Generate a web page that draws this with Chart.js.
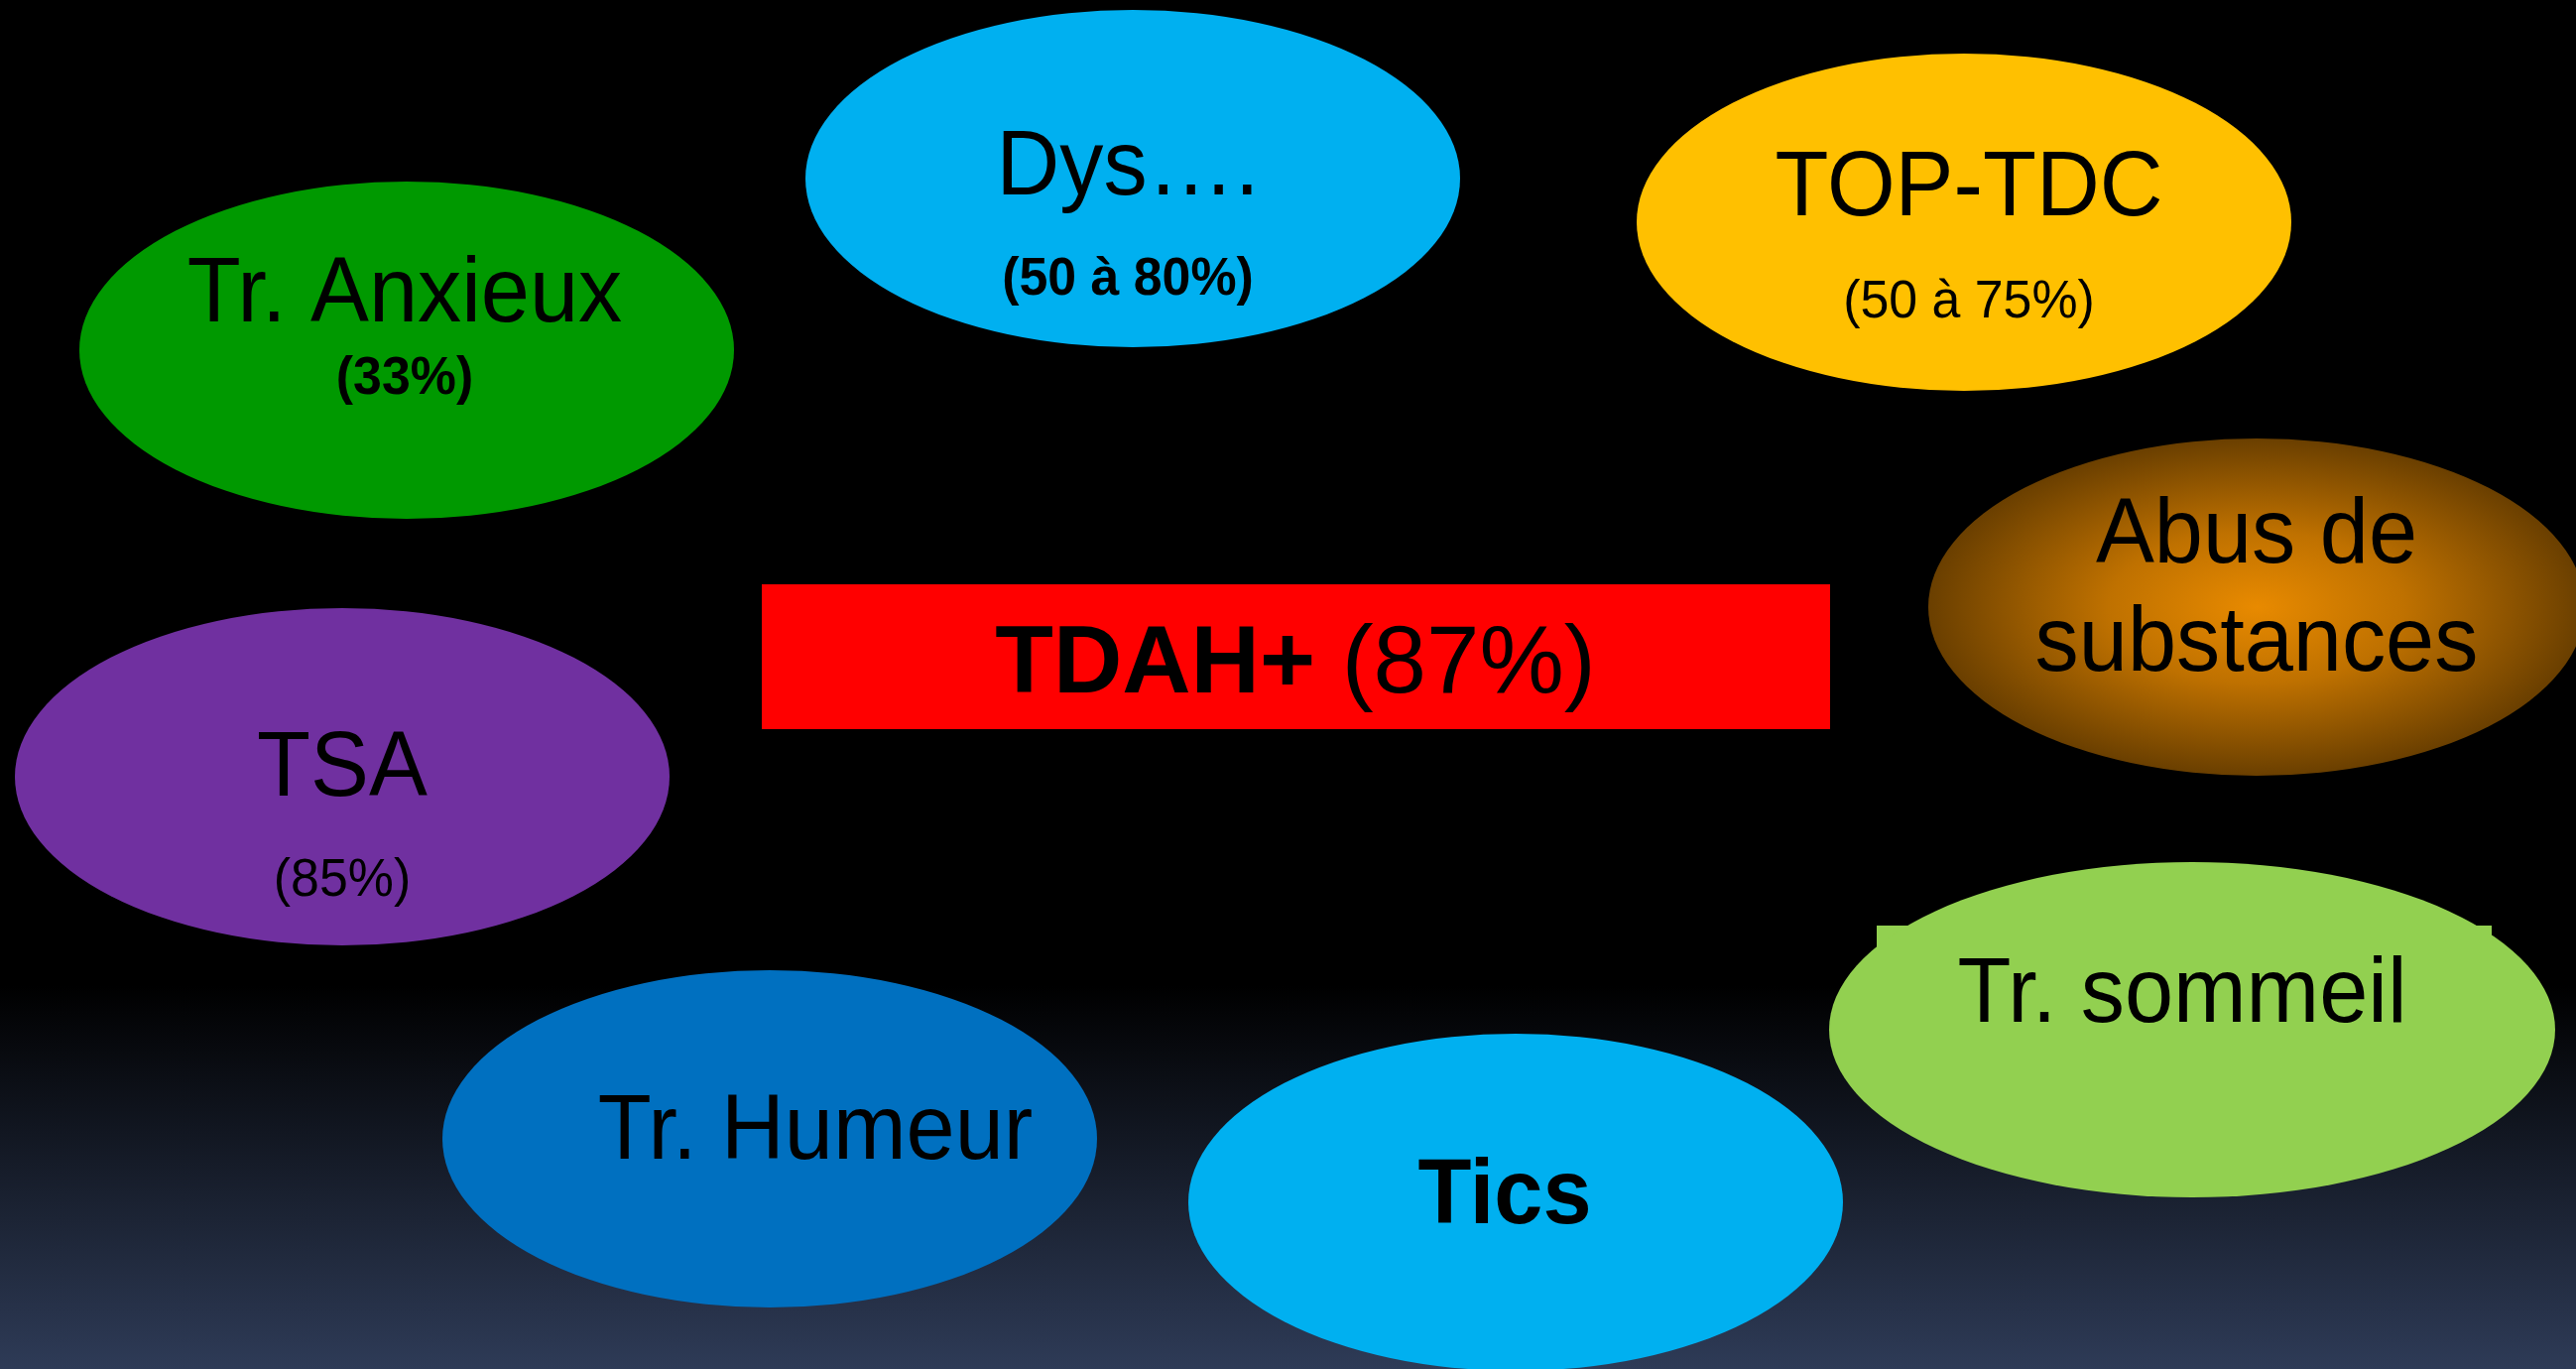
<!DOCTYPE html>
<html lang="fr">
<head>
<meta charset="UTF-8">
<title>TDAH+ et troubles associés</title>
<script src="https://cdn.jsdelivr.net/npm/chart.js"></script>
<style>
  html, body { margin: 0; padding: 0; background: #000; overflow: hidden; }
  #wrap { width: 2597px; height: 1380px; }
</style>
</head>
<body>
<div id="wrap"><canvas id="chart" width="2597" height="1380"></canvas></div>
<script>
// troubles associés (une bulle par trouble)
const troubles = ["Tr. Anxieux", "Dys….", "TOP-TDC", "Abus de\nsubstances", "TSA", "Tr. Humeur", "Tics", "Tr. sommeil"];
const taux = ["(33%)", "(50 à 80%)", "(50 à 75%)", "", "(85%)", "", "", ""];
const posX = [410, 1142, 1980, 2275, 345, 776, 1528, 2210];
const posY = [353, 180, 224, 612, 783, 1148, 1212, 1038];

// trouble central
const centreNom = "TDAH+";
const centreTaux = "(87%)";
const centreX = [1306];
const centreY = [662];

// styles des bulles
const couleurs = ["#009900", "#00b0f0", "#ffc000", "degrade", "#7030a0", "#0070c0", "#00b0f0", "#92d050"];
const rayonX = [330, 330, 330, 331, 330, 330, 330, 366];
const rayonY = [170, 170, 170, 170, 170, 170, 170, 169];
// mise en page du texte : décalage x, lignes du nom, ligne du taux, gras
const decalX = [-2, -5, 5, 0, 0, 46, -11, -10];
const lignesY = [[-29], [16], [-7], [-45, 64], [19], [20], [21], [-8]];
const tauxY = [44, 117, 96, 0, 120, 0, 0, 0];
const nomGras = [false, false, false, false, false, false, true, false];
const tauxGras = [true, true, false, false, false, false, false, false];

const POLICE = '"Liberation Sans", Arial, sans-serif';

function bulle(i) {
  const rx = rayonX[i], ry = rayonY[i];
  const c = document.createElement("canvas");
  c.width = rx * 2;
  c.height = ry * 2;
  const g = c.getContext("2d");
  if (couleurs[i] === "degrade") {
    g.save();
    g.translate(rx, ry);
    g.scale(1, ry / rx);
    const grad = g.createRadialGradient(0, 0, 0, 0, 0, rx);
    grad.addColorStop(0, "#e88a00");
    grad.addColorStop(0.45, "#bf7100");
    grad.addColorStop(1, "#6a3f00");
    g.fillStyle = grad;
    g.beginPath();
    g.arc(0, 0, rx, 0, Math.PI * 2);
    g.fill();
    g.restore();
    return c;
  }
  g.fillStyle = couleurs[i];
  if (i === 7) {
    // petit cadre derrière "Tr. sommeil"
    g.fillRect(rx - 318, ry - 105, 620, 110);
  }
  g.beginPath();
  g.ellipse(rx, ry, rx, ry, 0, 0, Math.PI * 2);
  g.fill();
  return c;
}

function cadreRouge() {
  const c = document.createElement("canvas");
  c.width = 1077;
  c.height = 146;
  const g = c.getContext("2d");
  g.fillStyle = "#ff0000";
  g.fillRect(0, 0, c.width, c.height);
  return c;
}

const images = troubles.map((t, i) => bulle(i));

function texte(ctx, txt, x, y, font, sx) {
  ctx.save();
  ctx.font = font;
  ctx.translate(x, y);
  ctx.scale(sx, 1);
  ctx.fillText(txt, 0, 0);
  ctx.restore();
}

const fond = {
  id: "fond",
  beforeDraw(chart) {
    const { ctx, width, height } = chart;
    const grad = ctx.createLinearGradient(0, 0, 0, height);
    grad.addColorStop(0, "#000000");
    grad.addColorStop(0.72, "#000000");
    grad.addColorStop(1, "#2e3b57");
    ctx.save();
    ctx.fillStyle = grad;
    ctx.fillRect(0, 0, width, height);
    ctx.restore();
  }
};

const etiquettes = {
  id: "etiquettes",
  afterDatasetsDraw(chart) {
    const ctx = chart.ctx;
    ctx.save();
    ctx.fillStyle = "#000";
    ctx.textAlign = "center";
    ctx.textBaseline = "alphabetic";

    chart.getDatasetMeta(0).data.forEach((pt, i) => {
      const x = pt.x + decalX[i];
      troubles[i].split("\n").forEach((l, k) => {
        texte(ctx, l, x, pt.y + lignesY[i][k], (nomGras[i] ? "bold " : "") + "92px " + POLICE, 0.96);
      });
      if (taux[i]) {
        texte(ctx, taux[i], x, pt.y + tauxY[i], (tauxGras[i] ? "bold " : "") + "54px " + POLICE, 0.96);
      }
    });

    // TDAH+ (87%) : gras + normal sur une ligne
    const c = chart.getDatasetMeta(1).data[0];
    const fGras = "bold 96px " + POLICE, fNorm = "96px " + POLICE;
    ctx.textAlign = "left";
    ctx.font = fGras;
    const w1 = ctx.measureText(centreNom).width;
    ctx.font = fNorm;
    const w2 = ctx.measureText(" " + centreTaux).width;
    const x0 = c.x - (w1 + w2) / 2;
    ctx.font = fGras;
    ctx.fillText(centreNom, x0, c.y + 36);
    ctx.font = fNorm;
    ctx.fillText(" " + centreTaux, x0 + w1, c.y + 36);
    ctx.restore();
  }
};

new Chart(document.getElementById("chart"), {
  type: "scatter",
  data: {
    datasets: [
      {
        data: posX.map((x, i) => ({ x: x, y: posY[i] })),
        pointStyle: images,
        pointRadius: 1,
        clip: false
      },
      {
        data: centreX.map((x, i) => ({ x: x, y: centreY[i] })),
        pointStyle: [cadreRouge()],
        pointRadius: 1,
        clip: false
      }
    ]
  },
  options: {
    responsive: false,
    animation: false,
    events: [],
    layout: { padding: 0, autoPadding: false },
    plugins: {
      legend: { display: false },
      tooltip: { enabled: false }
    },
    scales: {
      x: { type: "linear", min: 0, max: 2597, display: false },
      y: { type: "linear", min: 0, max: 1380, reverse: true, display: false }
    }
  },
  plugins: [fond, etiquettes]
});
</script>
</body>
</html>
